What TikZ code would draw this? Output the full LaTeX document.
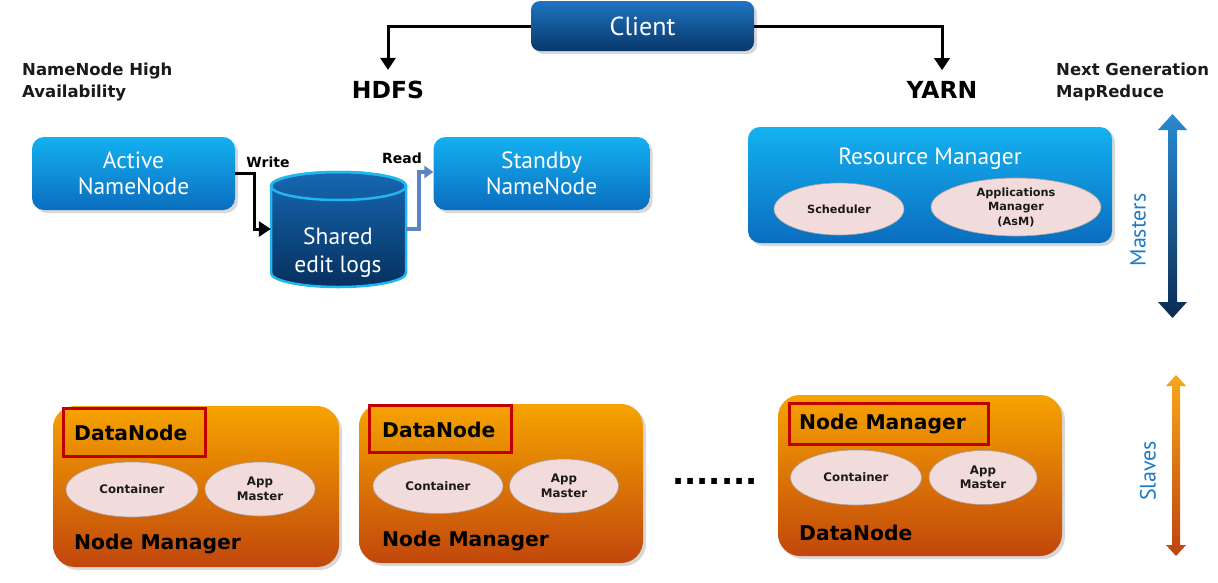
\documentclass[tikz,border=0pt]{standalone}
\usepackage{fontspec}
\setmainfont{DejaVu Sans}
\newfontfamily\lite{PT Sans}
\usetikzlibrary{arrows.meta,shadows,calc}
\definecolor{bluetop}{HTML}{14B1F0}
\definecolor{bluebot}{HTML}{0A6DBF}
\definecolor{clienttop}{HTML}{1D74C2}
\definecolor{clientbot}{HTML}{0A386A}
\definecolor{orgtop}{HTML}{F6A300}
\definecolor{orgbot}{HTML}{C1470C}
\definecolor{ellfill}{HTML}{F2DCDB}
\definecolor{ellline}{HTML}{A8A0A0}
\definecolor{redbox}{HTML}{C00000}
\definecolor{readblue}{HTML}{5B84C4}
\definecolor{lblblue}{HTML}{1C7BC6}
\definecolor{cyltop}{HTML}{1668B2}
\definecolor{cylbot}{HTML}{06305E}
\definecolor{cylline}{HTML}{22B6EE}
\definecolor{txtdark}{HTML}{1A1A1A}
\definecolor{mtop}{HTML}{2A8AD2}
\definecolor{mbot}{HTML}{0B2C52}
\definecolor{stop}{HTML}{F6A81C}
\definecolor{sbot}{HTML}{BF430D}
\tikzset{
  shad/.style={drop shadow={opacity=0.3, shadow xshift=3pt, shadow yshift=-3pt}},
  bluebox/.style={rounded corners=12pt, top color=bluetop, bottom color=bluebot, draw=none,
     text=white, font=\lite\fontsize{23.5}{26}\selectfont, align=center, inner sep=0pt, shad},
  clientbox/.style={rounded corners=9pt, top color=clienttop, bottom color=clientbot, draw=none,
     text=white, font=\lite\fontsize{26}{28}\selectfont, inner sep=0pt, shad},
  orgbox/.style={rounded corners=22pt, top color=orgtop, bottom color=orgbot, draw=none, inner sep=0pt, shad},
  redrect/.style={draw=redbox, line width=3pt, inner sep=0pt},
  ell/.style={ellipse, fill=ellfill, draw=ellline, line width=0.6pt, inner sep=0pt, align=center,
     font=\bfseries\fontsize{11.8}{14.5}\selectfont, text=txtdark},
  bigbold/.style={font=\bfseries\fontsize{20.3}{24}\selectfont, text=black, inner sep=0pt, anchor=west},
  headlbl/.style={font=\bfseries\fontsize{16.5}{22}\selectfont, text=txtdark, align=left, anchor=west, inner sep=0pt},
  toplbl/.style={font=\bfseries\fontsize{23.5}{26}\selectfont, text=black, inner sep=0pt},
  smlbl/.style={font=\bfseries\fontsize{14}{16}\selectfont, text=black, inner sep=0pt},
  sidelbl/.style={font=\lite\fontsize{22}{24}\selectfont, text=lblblue, rotate=90, inner sep=0pt},
  blkarrow/.style={draw=black, line width=3pt, -{Triangle[width=15pt,length=12pt]}},
  readarrow/.style={draw=readblue, line width=3.5pt, -{Triangle[width=12pt,length=9pt]}},
}
\usetikzlibrary{shapes.geometric}
\begin{document}
\begin{tikzpicture}[x=1pt,y=-1pt]
\useasboundingbox[fill=white] (0,0) rectangle (1218,582);

% Client
\node[clientbox, minimum width=223, minimum height=50] (client) at (642.5,26) {Client};
\node[toplbl] (hdfs) at (388,90) {HDFS};
\node[toplbl] (yarn) at (942,90) {YARN};
\draw[blkarrow] (client.west) -| ([yshift=11pt]hdfs.north);
\draw[blkarrow] (client.east) -| ([yshift=11pt]yarn.north);

% headings
\node[headlbl] (nnha) at (22,82) {NameNode High\\Availability};
\node[headlbl] (nextgen) at (1056,82) {Next Generation\\MapReduce};

% HDFS HA
\node[bluebox, minimum width=203, minimum height=73] (anode) at (133.5,173.5) {Active\\NameNode};
\node[bluebox, minimum width=216, minimum height=73] (snode) at (541.5,173.5) {Standby\\NameNode};

% cylinder
\path[top color=cyltop, bottom color=cylbot, draw=cylline, line width=2.5pt]
  (271,186) -- (271,273) arc[start angle=180, end angle=0, x radius=67.5, y radius=14]
  -- (406,186) arc[start angle=0, end angle=-180, x radius=67.5, y radius=14] -- cycle;
\draw[cylline, line width=2.5pt] (338.5,186) ellipse[x radius=67.5, y radius=14];
\node[inner sep=0pt, minimum width=135, minimum height=116] (cyl) at (338.5,229) {};
\node[text=white, font=\lite\fontsize{23.5}{28}\selectfont, align=center, inner sep=0pt] (cyltext) at (338,253) {Shared\\edit logs};

\draw[blkarrow] (anode.east) -- ++(19,0) |- (cyl.west);
\draw[readarrow] (cyl.east) -- ++(13,0) |- ([yshift=1.5pt]snode.west);
\node[smlbl] (wlbl) at (268,162) {Write};
\node[smlbl] (rlbl) at (402,158) {Read};

% Resource manager
\node[bluebox, minimum width=364, minimum height=116] (rm) at (930,185) {};
\node[text=white, font=\lite\fontsize{23.5}{26}\selectfont, inner sep=0pt] (rmtitle) at (930,159) {Resource Manager};
\node[ell, minimum width=130, minimum height=52, font=\bfseries\fontsize{11.3}{14}\selectfont] (sched) at (839,209) {Scheduler};
\node[ell, minimum width=170, minimum height=58, font=\bfseries\fontsize{11.3}{14.5}\selectfont] (asm) at (1016,207) {Applications\\Manager\\(AsM)};

% Masters arrow
\path[top color=mtop, bottom color=mbot]
  (1172.5,114) -- (1187,130) -- (1177,130) -- (1177,302) -- (1187,302) -- (1172.5,318)
  -- (1158,302) -- (1168,302) -- (1168,130) -- (1158,130) -- cycle;
\node[sidelbl] (masters) at (1138,230) {Masters};

% Slaves arrow
\path[top color=stop, bottom color=sbot]
  (1176,375) -- (1186,386) -- (1180,386) -- (1180,545) -- (1186,545) -- (1176,556)
  -- (1166,545) -- (1172,545) -- (1172,386) -- (1166,386) -- cycle;
\node[sidelbl] (slaves) at (1148,471) {Slaves};

% Slave 1
\node[orgbox, minimum width=286, minimum height=161] (s1) at (196,486.5) {};
\node[redrect, minimum width=142, minimum height=48] (r1) at (134,432.5) {};
\node[bigbold] (d1) at (74,433) {DataNode};
\node[ell, minimum width=132, minimum height=55] (c1) at (132,489.5) {Container};
\node[ell, minimum width=110, minimum height=54] (a1) at (260,489) {App\\Master};
\node[bigbold] (n1) at (74,544) {Node Manager};

% Slave 2
\node[orgbox, minimum width=284, minimum height=159] (s2) at (501,483.5) {};
\node[redrect, minimum width=142, minimum height=47] (r2) at (440.5,428.5) {};
\node[bigbold] (d2) at (382,430) {DataNode};
\node[ell, minimum width=130, minimum height=55] (c2) at (438,486) {Container};
\node[ell, minimum width=109, minimum height=54] (a2) at (564,486) {App\\Master};
\node[bigbold] (n2) at (382,541) {Node Manager};

% dots
\node[font=\bfseries\fontsize{32}{32}\selectfont, inner sep=0pt] (dots) at (715,481) {.......};

% Slave 3
\node[orgbox, minimum width=284, minimum height=161] (s3) at (920,475.5) {};
\node[redrect, minimum width=199, minimum height=41] (r3) at (888.5,423.5) {};
\node[bigbold] (n3) at (799,424) {Node Manager};
\node[ell, minimum width=131, minimum height=55] (c3) at (856,477.5) {Container};
\node[ell, minimum width=108, minimum height=54] (a3) at (983,477.5) {App\\Master};
\node[bigbold] (d3) at (799,533) {DataNode};
\end{tikzpicture}
\end{document}
